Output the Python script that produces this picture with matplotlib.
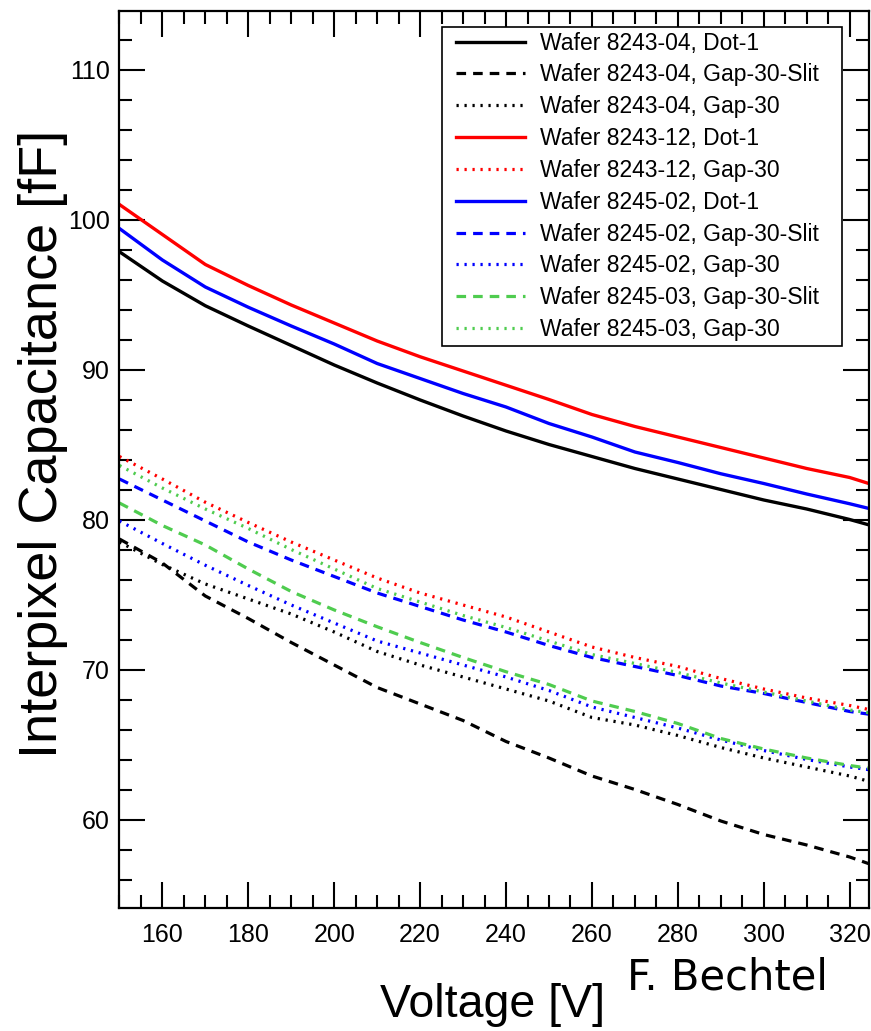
import numpy as np
import matplotlib
matplotlib.use("Agg")
import matplotlib.pyplot as plt
from matplotlib.ticker import MultipleLocator
from matplotlib.lines import Line2D
from matplotlib.legend_handler import HandlerLine2D

plt.rcParams['font.family'] = ['Liberation Sans', 'DejaVu Sans']

# ======================================
# Data
# ======================================

voltage = [150, 160, 170, 180, 190, 200, 210, 220, 230, 240,
           250, 260, 270, 280, 290, 300, 310, 320, 325]

w8243_04_dot1 = [97.85, 95.9, 94.25, 92.9, 91.6, 90.3, 89.1, 87.97, 86.9, 85.9,
                 85.0, 84.2, 83.4, 82.7, 82.0, 81.3, 80.7, 80.0, 79.6]
w8243_04_gap30slit = [78.7, 77.1, 74.9, 73.4, 71.8, 70.3, 68.8, 67.7, 66.6, 65.2,
                      64.1, 62.9, 62.0, 61.0, 59.9, 59.0, 58.3, 57.5, 57.0]
w8243_04_gap30 = [78.5, 77.0, 75.7, 74.7, 73.7, 72.5, 71.2, 70.3, 69.5, 68.7,
                  67.9, 66.8, 66.3, 65.6, 64.8, 64.1, 63.5, 62.9, 62.5]
w8243_12_dot1 = [101.0, 99.0, 97.0, 95.6, 94.3, 93.1, 91.9, 90.85, 89.9, 88.95,
                 88.0, 87.0, 86.2, 85.5, 84.8, 84.1, 83.4, 82.8, 82.35]
w8243_12_gap30 = [84.2, 82.7, 81.15, 79.8, 78.5, 77.3, 76.1, 75.1, 74.3, 73.5,
                  72.5, 71.5, 70.8, 70.2, 69.4, 68.7, 68.1, 67.6, 67.3]
w8245_02_dot1 = [99.4, 97.3, 95.5, 94.15, 92.9, 91.7, 90.4, 89.4, 88.4, 87.5,
                 86.4, 85.5, 84.5, 83.8, 83.05, 82.4, 81.7, 81.05, 80.7]
w8245_02_gap30slit = [82.7, 81.3, 79.9, 78.5, 77.3, 76.2, 75.1, 74.2, 73.3, 72.5,
                      71.6, 70.8, 70.2, 69.6, 68.9, 68.4, 67.8, 67.2, 67.0]
w8245_02_gap30 = [79.9, 78.4, 76.95, 75.6, 74.3, 73.1, 71.9, 71.1, 70.3, 69.5,
                  68.6, 67.5, 66.8, 66.1, 65.3, 64.6, 64.0, 63.5, 63.3]
w8245_03_gap30slit = [81.1, 79.6, 78.3, 76.7, 75.2, 73.97, 72.85, 71.8, 70.8, 69.85,
                      69.0, 67.9, 67.2, 66.4, 65.4, 64.7, 64.1, 63.6, 63.4]
w8245_03_gap30 = [83.6, 82.1, 80.7, 79.4, 78.0, 76.7, 75.4, 74.5, 73.6, 72.8,
                  71.9, 71.0, 70.4, 69.8, 69.1, 68.5, 67.9, 67.3, 67.1]

labels = [
    "Wafer 8243-04, Dot-1",
    "Wafer 8243-04, Gap-30-Slit",
    "Wafer 8243-04, Gap-30",
    "Wafer 8243-12, Dot-1",
    "Wafer 8243-12, Gap-30",
    "Wafer 8245-02, Dot-1",
    "Wafer 8245-02, Gap-30-Slit",
    "Wafer 8245-02, Gap-30",
    "Wafer 8245-03, Gap-30-Slit",
    "Wafer 8245-03, Gap-30",
]
series = [w8243_04_dot1, w8243_04_gap30slit, w8243_04_gap30,
          w8243_12_dot1, w8243_12_gap30,
          w8245_02_dot1, w8245_02_gap30slit, w8245_02_gap30,
          w8245_03_gap30slit, w8245_03_gap30]

GREEN = "#4fcc4f"
colors = ["black", "black", "black", "red", "red",
          "blue", "blue", "blue", GREEN, GREEN]
SOLID = "-"
DASH = (0, (3.0, 2.2))
DOT = (0, (0.7, 1.8))
styles = [SOLID, DASH, DOT, SOLID, DOT, SOLID, DASH, DOT, DASH, DOT]

# ======================================
# Figure
# ======================================

W, H = 871, 1031
fig = plt.figure(figsize=(W / 100, H / 100), dpi=100)
ax = fig.add_axes([119 / W, 1 - 908 / H, 750 / W, 897 / H])

for vals, lab, col, ls in zip(series, labels, colors, styles):
    lw = 2.4 if ls == SOLID else 2.3
    ax.plot(voltage, vals, color=col, linestyle=ls, linewidth=lw, label=lab)

ax.set_xlim(149.9, 324.5)
ax.set_ylim(54.1, 113.9)

ax.xaxis.set_major_locator(MultipleLocator(20))
ax.xaxis.set_minor_locator(MultipleLocator(5))
ax.yaxis.set_major_locator(MultipleLocator(10))
ax.yaxis.set_minor_locator(MultipleLocator(2))

ax.tick_params(which="both", direction="in", top=True, right=True,
               width=1.5, labelsize=18)
ax.tick_params(which="major", length=19)
ax.tick_params(which="minor", length=9.5)
ax.tick_params(axis="x", pad=11)
ax.tick_params(axis="y", pad=6.5)

for sp in ax.spines.values():
    sp.set_linewidth(1.6)

ax.set_ylabel("Interpixel Capacitance [fF]", fontsize=39, va="center")
ax.yaxis.set_label_coords((43 - 119) / 750, (908 - 444) / 897)

ax.set_xlabel("Voltage [V]", fontsize=33.5, va="baseline")
ax.xaxis.set_label_coords((493 - 119) / 750, (908 - 1017) / 897)

fig.text(627 / W, 1 - 990 / H, "F. Bechtel", fontsize=30,
         family="DejaVu Sans", ha="left", va="baseline")

leg = ax.legend(loc="upper left",
                bbox_to_anchor=(442 / W, 1 - 345 / H, 400 / W, 318 / H),
                bbox_transform=fig.transFigure, mode="expand",
                borderaxespad=0, fontsize=16.5, frameon=True, fancybox=False,
                numpoints=2, handler_map={Line2D: HandlerLine2D(marker_pad=0.4)},
                handlelength=3.8, handletextpad=0.29, labelspacing=0.385,
                borderpad=0.2)
leg.get_frame().set_edgecolor("black")
leg.get_frame().set_linewidth(1.2)
leg.get_frame().set_alpha(1)

fig.savefig("out.png", dpi=100)
